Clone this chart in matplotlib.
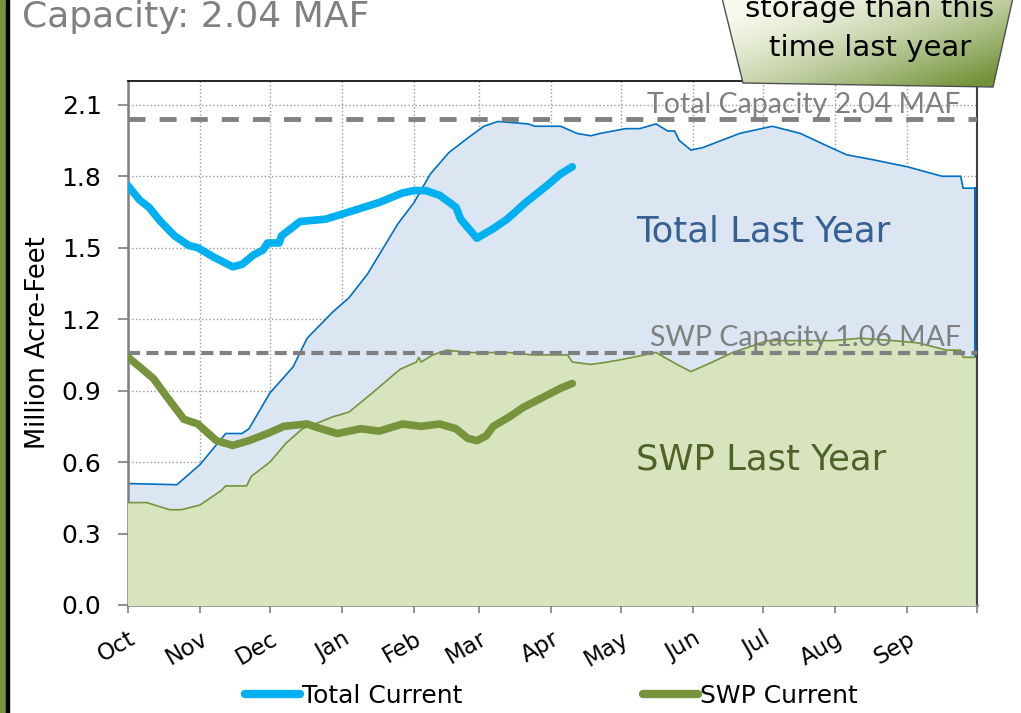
import numpy as np
import matplotlib.pyplot as plt
from matplotlib.patches import Polygon, Rectangle
from matplotlib.lines import Line2D

plt.rcParams['font.family'] = ['DejaVu Sans']

# water year: days since Oct 1
month_labels = ['Oct', 'Nov', 'Dec', 'Jan', 'Feb', 'Mar', 'Apr', 'May', 'Jun', 'Jul', 'Aug', 'Sep']
month_days = [0, 31, 61, 92, 123, 151, 182, 212, 243, 273, 304, 335, 365]

total_ly_days = [0, 21, 31, 42, 49, 52, 61, 71, 77, 88, 95, 103, 116, 123, 130, 138, 146, 153, 159,
                 172, 175, 186, 193, 199, 203, 214, 220, 227, 232, 235, 237, 242, 247, 263, 277, 281,
                 289, 300, 309, 320, 335, 350, 358, 359, 364]
total_ly = [0.51, 0.505, 0.59, 0.72, 0.72, 0.74, 0.89, 1.00, 1.12, 1.23, 1.29, 1.39, 1.60, 1.69, 1.81,
            1.90, 1.96, 2.01, 2.03, 2.02, 2.01, 2.01, 1.98, 1.97, 1.98, 2.00, 2.00, 2.02, 1.99, 1.99,
            1.95, 1.91, 1.92, 1.98, 2.01, 2.00, 1.98, 1.93, 1.89, 1.87, 1.84, 1.80, 1.80, 1.75, 1.75]

swp_ly_days = [0, 8, 18, 23, 31, 40, 42, 51, 53, 61, 68, 75, 83, 88, 95, 105, 117, 124, 125, 126, 131,
               137, 147, 164, 174, 189, 191, 199, 206, 212, 227, 236, 242, 249, 260, 275, 283, 303,
               315, 329, 340, 352, 358, 359, 364]
swp_ly = [0.43, 0.43, 0.40, 0.40, 0.42, 0.48, 0.50, 0.50, 0.54, 0.60, 0.68, 0.74, 0.77, 0.79, 0.81,
          0.89, 0.99, 1.02, 1.04, 1.02, 1.05, 1.07, 1.06, 1.06, 1.05, 1.05, 1.02, 1.01, 1.02, 1.03,
          1.06, 1.01, 0.98, 1.01, 1.06, 1.11, 1.11, 1.11, 1.12, 1.11, 1.10, 1.07, 1.07, 1.04, 1.04]

total_cur_days = [0, 5, 9, 14, 20, 26, 30, 37, 45, 49, 54, 58, 60, 65, 66, 74, 85, 95, 108, 118, 123,
                  128, 134, 141, 143, 150, 157, 163, 171, 180, 186, 191]
total_cur = [1.76, 1.70, 1.67, 1.61, 1.55, 1.51, 1.50, 1.46, 1.42, 1.43, 1.47, 1.49, 1.52, 1.52, 1.55,
             1.61, 1.62, 1.65, 1.69, 1.73, 1.74, 1.74, 1.72, 1.67, 1.62, 1.54, 1.58, 1.62, 1.69, 1.76,
             1.81, 1.84]

swp_cur_days = [0, 5, 11, 17, 24, 30, 38, 45, 52, 60, 67, 77, 83, 90, 100, 108, 118, 126, 134, 141,
                146, 150, 154, 157, 164, 170, 180, 186, 191]
swp_cur = [1.04, 1.00, 0.95, 0.87, 0.78, 0.76, 0.69, 0.67, 0.69, 0.72, 0.75, 0.76, 0.74, 0.72, 0.74,
           0.73, 0.76, 0.75, 0.76, 0.74, 0.70, 0.69, 0.71, 0.75, 0.79, 0.83, 0.88, 0.91, 0.93]

total_capacity = 2.04
swp_capacity = 1.06

fig = plt.figure(figsize=(10.21, 7.13), dpi=100)
ax = fig.add_axes([128 / 1021, 108 / 713, 849 / 1021, 524 / 713])

ax.fill_between(total_ly_days, total_ly, color='#DCE6F2', zorder=1)
ax.plot(total_ly_days, total_ly, color='#0070C0', lw=1.2, zorder=2)
ax.plot([364, 364], [0, 1.75], color='#0070C0', lw=1.5, zorder=2)
ax.fill_between(swp_ly_days, swp_ly, color='#D7E4BD', zorder=3)
ax.plot(swp_ly_days, swp_ly, color='#77933C', lw=1.2, zorder=4)

ax.axhline(total_capacity, color='#808080', lw=3.5, dashes=(3.5, 2.9), zorder=5)
ax.axhline(swp_capacity, color='#808080', lw=3, dashes=(2.9, 1.5), zorder=5)

ax.plot(total_cur_days, total_cur, color='#00B0F0', lw=5.5, solid_capstyle='round', zorder=6)
ax.plot(swp_cur_days, swp_cur, color='#77933C', lw=5.5, solid_capstyle='round', zorder=6)

ax.text(358, 2.045, 'Total Capacity 2.04 MAF', ha='right', va='bottom', fontsize=20.5,
        color='#808080', family='Lato', zorder=7)
ax.text(358, 1.065, 'SWP Capacity 1.06 MAF', ha='right', va='bottom', fontsize=20.5,
        color='#808080', family='Lato', zorder=7)
ax.text(273, 1.567, 'Total Last Year', ha='center', va='center', fontsize=25.5, color='#376092', zorder=7)
ax.text(272, 0.61, 'SWP Last Year', ha='center', va='center', fontsize=25.5, color='#4F6228', zorder=7)

ax.set_xlim(0, 365)
ax.set_ylim(0, 2.2)
ax.set_yticks(np.arange(0, 2.11, 0.3))
ax.set_yticklabels(['%.1f' % v for v in np.arange(0, 2.11, 0.3)])
ax.set_xticks(month_days)
ax.set_xticklabels(month_labels + [''], rotation=30, ha='right', rotation_mode='anchor')
ax.grid(True, linestyle=':', color='#9A9A9A', lw=1)
ax.set_axisbelow(True)
ax.tick_params(axis='y', labelsize=18, length=7, color='#808080', width=1.2, pad=12)
ax.tick_params(axis='x', labelsize=16.5, length=6, color='#808080', width=1.2, pad=10)
for s in ['left', 'bottom']:
    ax.spines[s].set_color('#808080')
    ax.spines[s].set_linewidth(1.8)
ax.spines['top'].set_color('black')
ax.spines['top'].set_linewidth(1.2)
ax.spines['right'].set_color('#404040')
ax.spines['right'].set_linewidth(1.5)
ax.set_ylabel('Million Acre-Feet', fontsize=18.5, labelpad=8)

handles = [Line2D([], [], color='#00B0F0', lw=6, solid_capstyle='round'),
           Line2D([], [], color='#77933C', lw=6, solid_capstyle='round')]
fig.legend(handles, ['Total Current', 'SWP Current'], loc='center', bbox_to_anchor=(0.54, 0.024),
           ncol=2, frameon=False, fontsize=18, handlelength=2.2, handletextpad=0.1, columnspacing=7.2)

# slide decorations
ov = fig.add_axes([0, 0, 1, 1], zorder=10)
ov.set_xlim(0, 1021)
ov.set_ylim(713, 0)
ov.axis('off')
ov.patch.set_visible(False)
ov.add_patch(Rectangle((0, 0), 5.5, 713, color='#77933C'))
ov.add_patch(Rectangle((5.5, 0), 3.5, 713, color='black'))
ov.text(22, 27, 'Capacity: 2.04 MAF', fontsize=26, color='#808080', va='baseline', ha='left')

pts = [(722, -2), (1013, -2), (993, 87), (743, 83)]
gx, gy = np.meshgrid(np.linspace(0, 1, 200), np.linspace(0, 1, 100))
t = np.clip(0.65 * gx + 0.55 * gy - 0.1, 0, 1) ** 1.4
c0 = np.array([0.97, 0.98, 0.93])
c1 = np.array([0.45, 0.57, 0.22])
img = c0 + (c1 - c0) * t[..., None]
im = ov.imshow(img, extent=(722, 1013, 87, -2), aspect='auto', zorder=1)
poly = Polygon(pts, closed=True, facecolor='none', edgecolor='#505050', lw=1, zorder=2)
ov.add_patch(poly)
im.set_clip_path(poly)
ov.text(870, 17, 'storage than this', fontsize=21, ha='center', va='baseline', zorder=3)
ov.text(870, 56, 'time last year', fontsize=21, ha='center', va='baseline', zorder=3)

fig.savefig('out.png', dpi=100)
